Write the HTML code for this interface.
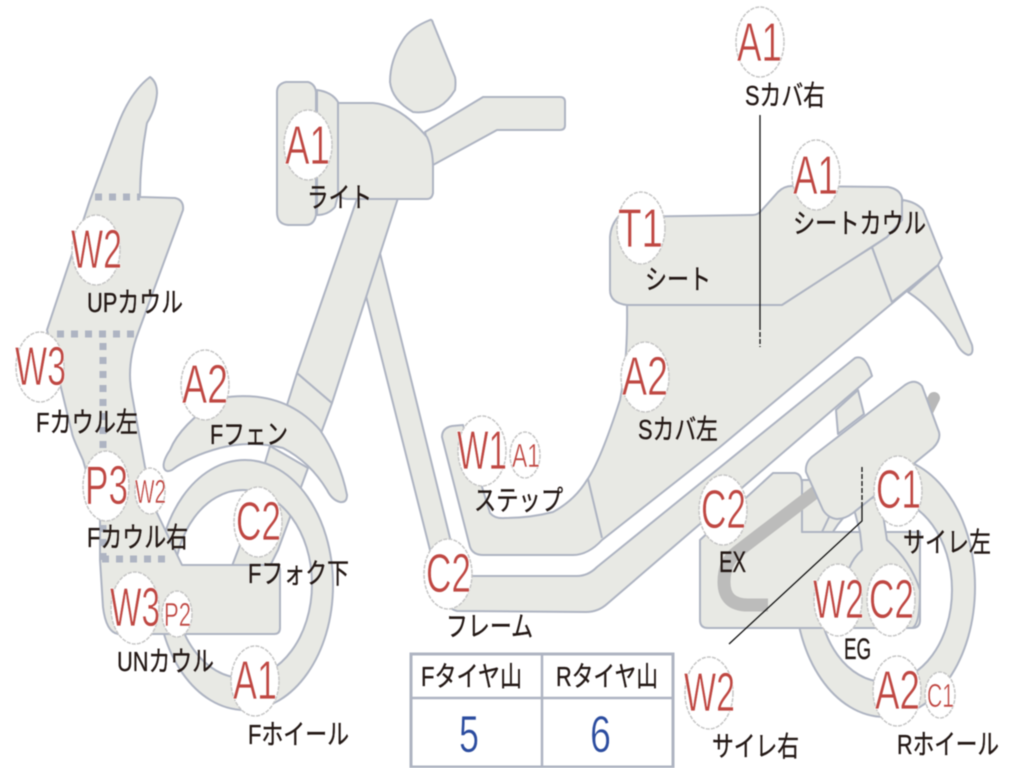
<!DOCTYPE html>
<html lang="ja"><head><meta charset="utf-8"><title>diagram</title>
<style>
html,body{margin:0;padding:0;background:#fff}
svg{display:block;filter:blur(.45px)}
.p{fill:#e8e9e4;stroke:#aeb4c2;stroke-width:2;stroke-linejoin:round}
.d{fill:none;stroke:#aeb4c2;stroke-width:7;stroke-dasharray:7 7}
.b{fill:#fff;stroke:#c6c6c6;stroke-width:1.5;stroke-dasharray:4 1.2}
.r{fill:#bf4742;stroke:#fff;stroke-width:.7;font-family:"Liberation Sans",sans-serif}
.k{fill:#231815;stroke:#231815;stroke-width:.35;font-family:"Liberation Sans","Noto Sans CJK JP",sans-serif;font-size:28px}
.u{fill:#2b4c9f;stroke:#fff;stroke-width:.6;font-family:"Liberation Sans",sans-serif;font-size:52px}
</style></head><body>
<svg width="1024" height="768" viewBox="0 0 1024 768" xmlns="http://www.w3.org/2000/svg">
<rect width="1024" height="768" fill="#fff"/>

<!-- lower fork -->
<path class="p" d="M270,446L308,468L278,550L270,566L232,566L243,537Z"/>
<!-- front wheel -->
<path class="p" fill-rule="evenodd" d="M245,460C294,460 333,516 333,585C333,654 294,710 245,710C196,710 157,654 157,585C157,516 196,460 245,460ZM243,490C205,490 174,532 174,584C174,636 205,678 243,678C281,678 312,636 312,584C312,532 281,490 243,490Z"/>
<path class="p" d="M297,373L332,403L320,436L287,405Z"/>
<!-- fender -->
<path class="p" d="M164,468Q162,462 170,450Q180,425 220,398Q283,388 320,430Q340,460 347,495Q347,503 340,502Q332,500 327,490Q310,462 283,448Q250,440 220,448Q190,456 172,470Q166,473 164,468Z"/>
<!-- cowl -->
<path class="p" d="M150,77Q157,82 157,93Q156,108 147,123Q140,160 140,197L175,198Q184,200 183,210L138,333Q126,365 132,395L145,467L157,513L182,565L274,565Q280,565 280,571L280,628Q280,634 274,634L118,634Q106,632 103,607L100,560L100,520L83,460Q72,436 72,433L47,330L90,200L117,127Q130,92 150,77Z"/>
<path class="d" d="M95,197H140M57,334H138M103,343V560M102,559H170"/>

<!-- head -->
<path class="p" d="M425,132L483,97L560,97Q565,97 565,102L565,125Q565,130 560,130L497,130L433,165Z"/>
<path class="p" d="M430,20Q410,28 403,40Q390,60 390,82Q392,100 413,112Q440,115 455,90Q456,82 455,77L433,23Q432,19 430,20Z"/>

<!-- strut behind frame -->
<path class="p" d="M836,410L858,390L864,414L838,434Z"/>
<!-- frame -->
<path class="p" d="M378,245L450,538Q456,576 473,576L577,576Q588,576 597,567L855,358Q866,354 872,376L607,604Q598,612 586,612L457,611Q436,606 430,550L366,296Z"/>
<!-- upper stem over frame -->
<path class="p" d="M358,196L297,373L332,403L398,198Z"/>
<path class="p" d="M317,90Q332,92 338,102L338,195L335,207Q328,215 317,215Z"/>
<path class="p" d="M286,82L308,82Q315,84 316,92L316,215Q314,225 306,225L288,225Q277,224 277,212L277,92Q277,84 286,82Z"/>
<path class="p" d="M338,103L373,103Q400,105 427,137Q433,150 433,167L433,193Q432,199 427,199L347,199Q338,198 338,193Z"/>

<!-- body -->
<path class="p" d="M627,304L782,304L872,247L892,302L938,265L720,447L602,540Q588,555 573,555L483,555Q473,555 470,547L442,437Q442,428 452,426L463,425L490,513Q495,519 505,518Q530,518 553,512Q575,500 587,480Q600,462 620,400Q628,360 627,304Z"/>
<path d="M588,479L602,538" fill="none" stroke="#aeb4c2" stroke-width="2"/>
<!-- rear cowl -->
<path class="p" d="M938,265L972,345Q974,355 968,355Q960,352 955,340Q935,310 908,292Z"/>
<path class="p" d="M903,200Q916,202 923,210L942,258L938,265L892,302L872,247L887,237Z"/>
<!-- seat -->
<path class="p" d="M618,217L753,215Q758,215 762,210L778,192Q784,186 792,186L888,187Q900,189 902,198L902,220L887,237L782,305L627,305Q610,303 610,290L610,237Q611,225 618,217Z"/>

<!-- rear wheel -->
<path class="p" fill-rule="evenodd" d="M885,457C935,457 975,515 975,587C975,659 935,717 885,717C835,717 795,659 795,587C795,515 835,457 885,457ZM885,498C848,498 818,539 818,590C818,641 848,682 885,682C922,682 952,641 952,590C952,539 922,498 885,498Z"/>
<!-- engine -->
<path class="p" d="M700,540L773,473L795,473Q802,474 802,485L802,532L920,532L920,620Q920,628 912,628L708,628Q700,628 700,620Z"/>
<path class="p" d="M802,480L802,532L822,532L830,515L812,480Z"/>
<path class="p" d="M853,505L860,532L862,550Q845,565 845,592L845,628L912,628Q920,625 920,590Q910,560 887,540L880,495Z"/>
<path d="M826,484L737,552Q724,562 724,582Q724,605 748,605L768,605" fill="none" stroke="#bcbcbb" stroke-width="13"/>
<path d="M928,410L934,398" fill="none" stroke="#b8b8b8" stroke-width="12" stroke-linecap="round"/>
<!-- muffler -->
<path class="p" d="M813,456L905,385Q915,378 922,386L939,432Q941,440 933,448L873,497L853,513Q845,519 837,519Q828,518 823,510L806,472Q805,462 813,456Z"/>

<!-- leader lines -->
<path d="M760,115V325" stroke="#111" stroke-width="1.3" fill="none"/>
<path d="M760,325V347" stroke="#111" stroke-width="1.3" fill="none" stroke-dasharray="5 2"/>
<path d="M862,467V503" stroke="#111" stroke-width="1.3" fill="none" stroke-dasharray="5 2"/>
<path d="M862,503V521L729,644" stroke="#111" stroke-width="1.3" fill="none"/>

<!-- table -->
<rect x="411" y="654" width="262" height="113" fill="#fff" stroke="#aeb4c2" stroke-width="3"/>
<path d="M411,698H673M542,654V767" stroke="#aeb4c2" stroke-width="2.5" fill="none"/>
<text class="u" x="459" y="752" textLength="20" lengthAdjust="spacingAndGlyphs">5</text>
<text class="u" x="590" y="752" textLength="21" lengthAdjust="spacingAndGlyphs">6</text>

<!-- badges -->
<ellipse class="b" cx="760" cy="42" rx="24" ry="35"/>
<ellipse class="b" cx="816" cy="175" rx="24" ry="35"/>
<ellipse class="b" cx="308" cy="145" rx="24" ry="35"/>
<ellipse class="b" cx="641" cy="228" rx="24" ry="36"/>
<ellipse class="b" cx="96" cy="250" rx="24" ry="35"/>
<ellipse class="b" cx="40" cy="367" rx="24" ry="35"/>
<ellipse class="b" cx="205" cy="385" rx="24" ry="35"/>
<ellipse class="b" cx="645" cy="377" rx="24" ry="35"/>
<ellipse class="b" cx="482" cy="451" rx="24" ry="35"/>
<ellipse class="b" cx="525" cy="455" rx="15" ry="23"/>
<ellipse class="b" cx="106" cy="486" rx="23" ry="35"/>
<ellipse class="b" cx="150" cy="491" rx="15" ry="23"/>
<ellipse class="b" cx="258" cy="522" rx="24" ry="35"/>
<ellipse class="b" cx="448" cy="574" rx="24" ry="35"/>
<ellipse class="b" cx="723" cy="510" rx="24" ry="35"/>
<ellipse class="b" cx="898" cy="491" rx="24" ry="35"/>
<ellipse class="b" cx="838" cy="600" rx="24" ry="36"/>
<ellipse class="b" cx="891" cy="600" rx="24" ry="36"/>
<ellipse class="b" cx="135" cy="608" rx="24" ry="36"/>
<ellipse class="b" cx="177" cy="614" rx="15" ry="23"/>
<ellipse class="b" cx="255" cy="681" rx="24" ry="35"/>
<ellipse class="b" cx="897" cy="691" rx="24" ry="35"/>
<ellipse class="b" cx="940" cy="695" rx="15" ry="23"/>
<ellipse class="b" cx="709" cy="693" rx="24" ry="36"/>

<!-- badge text -->
<g class="r" font-size="55">
<text x="737" y="61" textLength="45" lengthAdjust="spacingAndGlyphs">A1</text>
<text x="793" y="194" textLength="45" lengthAdjust="spacingAndGlyphs">A1</text>
<text x="285" y="164" textLength="45" lengthAdjust="spacingAndGlyphs">A1</text>
<text x="618" y="247" textLength="45" lengthAdjust="spacingAndGlyphs">T1</text>
<text x="71" y="268" textLength="51" lengthAdjust="spacingAndGlyphs">W2</text>
<text x="15" y="385" textLength="51" lengthAdjust="spacingAndGlyphs">W3</text>
<text x="182" y="403" textLength="46" lengthAdjust="spacingAndGlyphs">A2</text>
<text x="622" y="395" textLength="46" lengthAdjust="spacingAndGlyphs">A2</text>
<text x="457" y="469" textLength="50" lengthAdjust="spacingAndGlyphs">W1</text>
<text x="85" y="504" textLength="43" lengthAdjust="spacingAndGlyphs">P3</text>
<text x="236" y="540" textLength="45" lengthAdjust="spacingAndGlyphs">C2</text>
<text x="426" y="592" textLength="45" lengthAdjust="spacingAndGlyphs">C2</text>
<text x="701" y="528" textLength="45" lengthAdjust="spacingAndGlyphs">C2</text>
<text x="876" y="508" textLength="45" lengthAdjust="spacingAndGlyphs">C1</text>
<text x="813" y="618" textLength="51" lengthAdjust="spacingAndGlyphs">W2</text>
<text x="869" y="618" textLength="45" lengthAdjust="spacingAndGlyphs">C2</text>
<text x="110" y="626" textLength="50" lengthAdjust="spacingAndGlyphs">W3</text>
<text x="233" y="699" textLength="44" lengthAdjust="spacingAndGlyphs">A1</text>
<text x="875" y="709" textLength="45" lengthAdjust="spacingAndGlyphs">A2</text>
<text x="684" y="711" textLength="51" lengthAdjust="spacingAndGlyphs">W2</text>
</g>
<g class="r" font-size="33" style="stroke-width:.5">
<text x="512" y="467" textLength="28" lengthAdjust="spacingAndGlyphs">A1</text>
<text x="135" y="503" textLength="31" lengthAdjust="spacingAndGlyphs">W2</text>
<text x="164" y="626" textLength="27" lengthAdjust="spacingAndGlyphs">P2</text>
<text x="927" y="707" textLength="27" lengthAdjust="spacingAndGlyphs">C1</text>
</g>

<!-- labels -->
<g class="k">
<text x="307" y="207" textLength="65" lengthAdjust="spacingAndGlyphs">ライト</text>
<text x="745" y="105" textLength="80" lengthAdjust="spacingAndGlyphs">Sカバ右</text>
<text x="793" y="233" textLength="133" lengthAdjust="spacingAndGlyphs">シートカウル</text>
<text x="645" y="289" textLength="66" lengthAdjust="spacingAndGlyphs">シート</text>
<text x="87" y="312" textLength="96" lengthAdjust="spacingAndGlyphs">UPカウル</text>
<text x="36" y="432" textLength="102" lengthAdjust="spacingAndGlyphs">Fカウル左</text>
<text x="210" y="444" textLength="78" lengthAdjust="spacingAndGlyphs">Fフェン</text>
<text x="638" y="439" textLength="80" lengthAdjust="spacingAndGlyphs">Sカバ左</text>
<text x="474" y="510" textLength="89" lengthAdjust="spacingAndGlyphs">ステップ</text>
<text x="87" y="547" textLength="101" lengthAdjust="spacingAndGlyphs">Fカウル右</text>
<text x="248" y="583" textLength="101" lengthAdjust="spacingAndGlyphs">Fフォク下</text>
<text x="719" y="572" textLength="27" lengthAdjust="spacingAndGlyphs" style="font-size:30px">EX</text>
<text x="903" y="552" textLength="88" lengthAdjust="spacingAndGlyphs">サイレ左</text>
<text x="446" y="636" textLength="87" lengthAdjust="spacingAndGlyphs">フレーム</text>
<text x="844" y="659" textLength="27" lengthAdjust="spacingAndGlyphs" style="font-size:30px">EG</text>
<text x="117" y="671" textLength="97" lengthAdjust="spacingAndGlyphs">UNカウル</text>
<text x="248" y="744" textLength="101" lengthAdjust="spacingAndGlyphs">Fホイール</text>
<text x="712" y="756" textLength="87" lengthAdjust="spacingAndGlyphs">サイレ右</text>
<text x="897" y="754" textLength="102" lengthAdjust="spacingAndGlyphs">Rホイール</text>
<text x="421" y="686" textLength="101" lengthAdjust="spacingAndGlyphs">Fタイヤ山</text>
<text x="556" y="686" textLength="102" lengthAdjust="spacingAndGlyphs">Rタイヤ山</text>
</g>
</svg>
</body></html>
